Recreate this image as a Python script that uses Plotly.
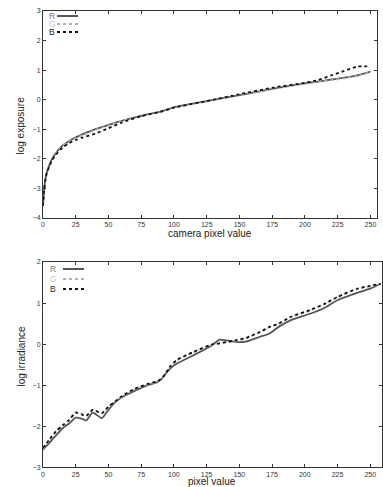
import plotly.graph_objects as go

# ---------- data: top chart (camera response) ----------
top_x = [0, 1, 2, 3, 5, 7, 10, 15, 20, 25, 30, 40, 50, 60, 75, 90, 100, 125, 150, 175, 200, 210, 220, 230, 240, 250]
top_R = [-3.6, -3.0, -2.65, -2.45, -2.2, -2.0, -1.8, -1.55, -1.4, -1.28, -1.18, -1.0, -0.86, -0.72, -0.55, -0.4, -0.26, -0.05, 0.15, 0.36, 0.55, 0.61, 0.68, 0.74, 0.82, 0.95]
top_G = [-3.6, -3.0, -2.66, -2.46, -2.22, -2.02, -1.82, -1.57, -1.42, -1.31, -1.21, -1.03, -0.88, -0.73, -0.55, -0.41, -0.27, -0.06, 0.14, 0.35, 0.54, 0.6, 0.66, 0.72, 0.8, 0.93]
top_B = [-3.6, -3.0, -2.66, -2.47, -2.24, -2.05, -1.86, -1.62, -1.47, -1.37, -1.29, -1.15, -0.97, -0.78, -0.56, -0.41, -0.27, -0.05, 0.18, 0.4, 0.57, 0.66, 0.82, 0.97, 1.12, 1.12]

# ---------- data: bottom chart (irradiance) ----------
bot_x = [0, 5, 10, 15, 20, 25, 30, 33, 38, 45, 50, 55, 60, 70, 80, 87, 90, 93, 97, 102, 115, 128, 135, 140, 148, 155, 166, 173, 180, 189, 204, 215, 225, 240, 250, 258]
bot_R = [-2.57, -2.4, -2.22, -2.05, -1.93, -1.79, -1.82, -1.86, -1.67, -1.8, -1.6, -1.42, -1.3, -1.14, -1.0, -0.93, -0.87, -0.75, -0.6, -0.48, -0.27, -0.05, 0.11, 0.09, 0.05, 0.06, 0.18, 0.26, 0.42, 0.58, 0.74, 0.88, 1.07, 1.25, 1.35, 1.47]
bot_G = [-2.55, -2.33, -2.13, -1.98, -1.84, -1.66, -1.7, -1.74, -1.6, -1.69, -1.53, -1.41, -1.28, -1.1, -0.98, -0.92, -0.86, -0.75, -0.56, -0.4, -0.2, -0.03, 0.02, 0.04, 0.09, 0.14, 0.29, 0.41, 0.49, 0.65, 0.82, 0.97, 1.14, 1.34, 1.41, 1.47]
bot_B = [-2.53, -2.32, -2.12, -1.98, -1.85, -1.67, -1.72, -1.75, -1.6, -1.68, -1.52, -1.4, -1.27, -1.09, -0.97, -0.91, -0.85, -0.75, -0.55, -0.39, -0.19, -0.02, 0.02, 0.05, 0.1, 0.15, 0.3, 0.42, 0.5, 0.66, 0.83, 0.98, 1.15, 1.35, 1.42, 1.47]

x_ticks = [0, 25, 50, 75, 100, 125, 150, 175, 200, 225, 250]
top_y_ticks = [-4, -3, -2, -1, 0, 1, 2, 3]
bot_y_ticks = [-3, -2, -1, 0, 1, 2]

series_names = ["R", "G", "B"]
series_colors = {"R": "#555555", "G": "#b0b0b0", "B": "#111111"}
series_dash = {"R": "solid", "G": "dot", "B": "dot"}
text_colors = {"R": "#777777", "G": "#c8c8c8", "B": "#222222"}

FONT = "Liberation Sans, Arial, sans-serif"

W, H = 383, 487


def px(p):
    return p / W


def py(p):
    return 1 - p / H


fig = go.Figure()

for name, ys in zip(series_names, [top_R, top_G, top_B]):
    fig.add_trace(go.Scatter(x=top_x, y=ys, mode="lines", name=name, showlegend=False,
                             line=dict(color=series_colors[name], dash=series_dash[name],
                                       width=1.8, shape="spline", smoothing=0.6),
                             xaxis="x", yaxis="y"))
for name, ys in zip(series_names, [bot_R, bot_G, bot_B]):
    fig.add_trace(go.Scatter(x=bot_x, y=ys, mode="lines", name=name, showlegend=False,
                             line=dict(color=series_colors[name], dash=series_dash[name],
                                       width=1.8, shape="spline", smoothing=0.6),
                             xaxis="x2", yaxis="y2"))

axis_common = dict(showgrid=False, zeroline=False, showline=True, linecolor="#333333",
                   linewidth=1, mirror="ticks", ticks="inside", ticklen=3,
                   tickcolor="#333333", tickfont=dict(size=7, color="#333333", family=FONT),
                   automargin=False)

fig.update_layout(
    width=W, height=H,
    margin=dict(l=0, r=0, t=0, b=0),
    paper_bgcolor="white", plot_bgcolor="white",
    font=dict(family=FONT),
    xaxis=dict(domain=[px(43), px(377)], range=[0, 255], tickvals=x_ticks, anchor="y", **axis_common),
    yaxis=dict(domain=[py(217.7), py(11)], range=[-4, 3], tickvals=top_y_ticks, anchor="x", **axis_common),
    xaxis2=dict(domain=[px(43), px(382)], range=[0, 259], tickvals=x_ticks, anchor="y2", **axis_common),
    yaxis2=dict(domain=[py(467.3), py(262)], range=[-3, 2], tickvals=bot_y_ticks, anchor="x2", **axis_common),
)

center = dict(xref="paper", yref="paper", showarrow=False, xanchor="center", yanchor="middle")

# axis titles
ann = [
    dict(text="camera pixel value", x=px(210), y=py(233.5), font=dict(size=10, color="#222222"), **center),
    dict(text="pixel value", x=px(212), y=py(481.5), font=dict(size=10, color="#222222"), **center),
    dict(text="log exposure", x=px(20.5), y=py(126), textangle=-90,
         font=dict(size=10, color="#222222"), **center),
    dict(text="log irradiance", x=px(20.5), y=py(357), textangle=-90,
         font=dict(size=10, color="#222222"), **center),
]

shapes = []
# legends (style elements, positioned in page pixels)
legend_rows = [
    (16, 24, 32, 52, 57, 78),      # top chart: y of R,G,B rows, text x, line start, line end
    (269, 279, 289, 53, 63, 84),   # bottom chart
]
for rows in legend_rows:
    ys = rows[:3]
    tx, l0, l1 = rows[3], rows[4], rows[5]
    for name, yy in zip(series_names, ys):
        ann.append(dict(text=name, x=px(tx), y=py(yy), font=dict(size=8.5, color=text_colors[name]), **center))
        shapes.append(dict(type="line", xref="paper", yref="paper",
                           x0=px(l0), x1=px(l1), y0=py(yy), y1=py(yy),
                           line=dict(color=series_colors[name], width=2, dash=series_dash[name])))

fig.update_layout(annotations=ann, shapes=shapes)

# remove the default page margin so the figure fills the window exactly
post = ("document.body.style.margin='0';"
        "document.documentElement.style.overflow='hidden';"
        "document.body.style.overflow='hidden';")
fig.write_html("out.html", post_script=post, config={"displayModeBar": False})
